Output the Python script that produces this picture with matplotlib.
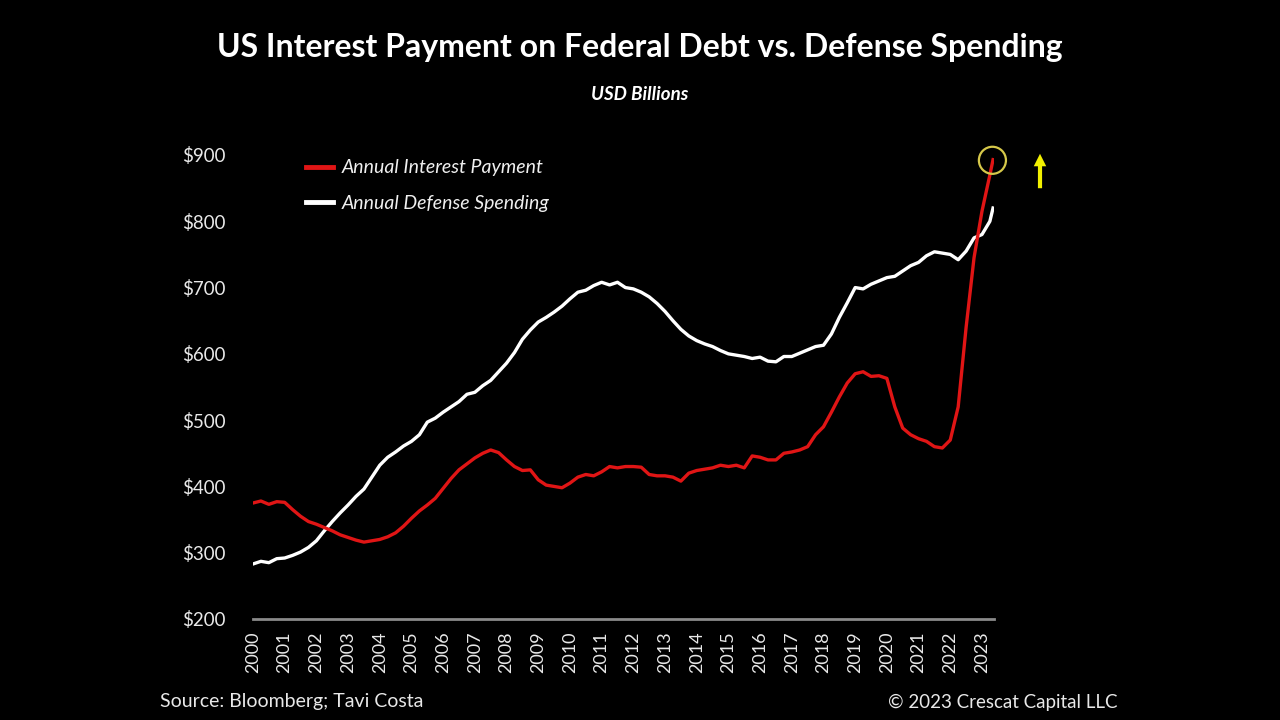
import numpy as np
import matplotlib
matplotlib.use('Agg')
import matplotlib.pyplot as plt

# 数据 (USD billions, 按季度从图中读出)
years = [2000.00, 2000.25, 2000.50, 2000.75, 2001.00, 2001.25, 2001.50, 2001.75,
         2002.00, 2002.25, 2002.50, 2002.75, 2003.00, 2003.25, 2003.50, 2003.75,
         2004.00, 2004.25, 2004.50, 2004.75, 2005.00, 2005.25, 2005.50, 2005.75,
         2006.00, 2006.25, 2006.50, 2006.75, 2007.00, 2007.25, 2007.50, 2007.75,
         2008.00, 2008.25, 2008.50, 2008.75, 2009.00, 2009.25, 2009.50, 2009.75,
         2010.00, 2010.25, 2010.50, 2010.75, 2011.00, 2011.25, 2011.50, 2011.75,
         2012.00, 2012.25, 2012.50, 2012.75, 2013.00, 2013.25, 2013.50, 2013.75,
         2014.00, 2014.25, 2014.50, 2014.75, 2015.00, 2015.25, 2015.50, 2015.75,
         2016.00, 2016.25, 2016.50, 2016.75, 2017.00, 2017.25, 2017.50, 2017.75,
         2018.00, 2018.25, 2018.50, 2018.75, 2019.00, 2019.25, 2019.50, 2019.75,
         2020.00, 2020.25, 2020.50, 2020.75, 2021.00, 2021.25, 2021.50, 2021.75,
         2022.00, 2022.25, 2022.50, 2022.75, 2023.00, 2023.25, 2023.35]

defense = [283, 287, 285, 291, 292, 296, 301, 308,
           318, 333, 347, 360, 372, 385, 396, 414,
           432, 444, 452, 461, 468, 478, 497, 503,
           512, 520, 528, 539, 542, 552, 560, 573,
           586, 602, 622, 636, 648, 655, 663, 672,
           683, 693, 696, 703, 708, 704, 708, 700,
           698, 693, 686, 676, 664, 650, 637, 627,
           620, 615, 611, 605, 600, 598, 596, 593,
           595, 589, 588, 596, 596, 601, 606, 611,
           613, 630, 655, 677, 700, 698, 705, 710,
           715, 717, 725, 733, 738, 748, 754, 752,
           750, 742, 755, 775, 780, 800, 820]

interest = [375, 378, 373, 377, 376, 365, 355, 347,
            343, 338, 333, 327, 323, 319, 316, 318,
            320, 324, 330, 340, 352, 363, 372, 382,
            397, 412, 425, 434, 443, 450, 455, 451,
            440, 430, 424, 425, 410, 402, 400, 398,
            405, 414, 418, 416, 422, 430, 428, 430,
            430, 429, 418, 416, 416, 414, 408, 420,
            424, 426, 428, 432, 430, 432, 428, 446,
            444, 440, 440, 450, 452, 455, 460, 478,
            490, 512, 535, 556, 570, 573, 566, 567,
            563, 520, 488, 478, 472, 468, 460, 458,
            470, 520, 640, 745, 815, 870, 893]

year_ticks = list(range(2000, 2024))
y_ticks = [200, 300, 400, 500, 600, 700, 800, 900]
y_labels = ['$' + str(v) for v in y_ticks]

plt.rcParams['font.family'] = ['Lato', 'DejaVu Sans']

fig = plt.figure(figsize=(12.8, 7.2), dpi=100, facecolor='black')
ax = fig.add_axes([253/1280, 1-619/720, (994-253)/1280, (619-155)/720])
ax.set_facecolor('black')

ax.plot(years, interest, color='#e01515', lw=2.4, label='Annual Interest Payment', zorder=3)
ax.plot(years, defense, color='white', lw=2.4, label='Annual Defense Spending', zorder=2)

ax.set_xlim(2000, 2023.38)
ax.set_ylim(200, 900)
ax.set_xticks(year_ticks)
ax.set_xticklabels([str(y) for y in year_ticks], rotation=90, color='#e8e8e8', fontsize=13)
ax.set_yticks(y_ticks)
ax.set_yticklabels(y_labels, color='#e8e8e8', fontsize=13.5)
ax.tick_params(length=0, pad=9)
ax.tick_params(axis='y', pad=20)
for s in ['top', 'right', 'left']:
    ax.spines[s].set_visible(False)
ax.spines['bottom'].set_color('#8a8a8a')
ax.spines['bottom'].set_linewidth(2)

# 圈出最新值
ax.scatter([2023.33], [892], s=380, facecolors='none', edgecolors='#d6c84a',
           linewidths=1.6, clip_on=False, zorder=4)
ax.annotate('', xy=(1040/1280, 1-151/720), xytext=(1040/1280, 1-191/720),
            xycoords='figure fraction', textcoords='figure fraction',
            arrowprops=dict(arrowstyle='simple,head_width=0.9,head_length=0.9,tail_width=0.3',
                            color='#f2f000', lw=0))

leg = ax.legend(loc='upper left', bbox_to_anchor=(288/1280, 1-142/720),
                bbox_transform=fig.transFigure, frameon=False, handlelength=1.4,
                handletextpad=0.45, labelspacing=0.95,
                prop={'style': 'italic', 'size': 14})
for t in leg.get_texts():
    t.set_color('#f0f0f0')
for h in leg.get_lines():
    h.set_linewidth(3.5)

fig.text(0.5, 1-47/720, 'US Interest Payment on Federal Debt vs. Defense Spending',
         ha='center', va='center', color='white', fontsize=23, fontweight='bold')
fig.text(0.5, 1-94/720, 'USD Billions', ha='center', va='center', color='white',
         fontsize=13.5, fontweight='bold', style='italic')
fig.text(160/1280, 1-702/720, 'Source: Bloomberg; Tavi Costa', ha='left', va='center',
         color='#e8e8e8', fontsize=14)
fig.text(1118/1280, 1-702/720, '\u00a9 2023 Crescat Capital LLC', ha='right', va='center',
         color='#e8e8e8', fontsize=13.5)

fig.savefig('out.png', dpi=100, facecolor='black')
